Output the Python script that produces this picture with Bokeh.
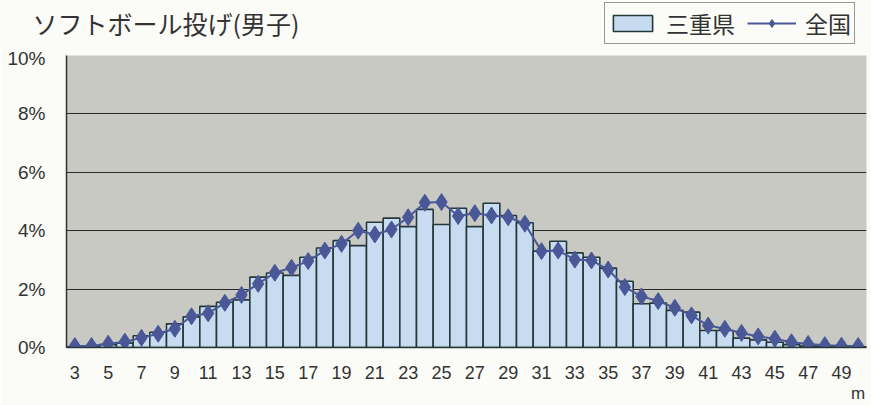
from bokeh.plotting import figure
from bokeh.layouts import column
from bokeh.models import (Range1d, FixedTicker, Label, Legend, LegendItem,
                          ColumnDataSource, LinearAxis)
from bokeh.embed import file_html
from bokeh.resources import INLINE

title_text = "ソフトボール投げ(男子)"
series_mie = "三重県"
series_all = "全国"
unit_label = "m"

distance = list(range(3, 51))
mie = [0.02, 0.03, 0.10, 0.15, 0.40, 0.52, 0.81, 1.05, 1.41, 1.55, 1.63, 2.41,
       2.55, 2.47, 3.09, 3.41, 3.66, 3.49, 4.29, 4.43, 4.14, 4.73, 4.21, 4.77,
       4.14, 4.94, 4.52, 4.27, 3.30, 3.64, 3.24, 3.09, 2.72, 2.27, 1.50, 1.52,
       1.27, 1.21, 0.58, 0.58, 0.32, 0.26, 0.18, 0.10, 0.05, 0.03, 0.02, 0.02]
zenkoku = [0.05, 0.05, 0.13, 0.20, 0.33, 0.47, 0.64, 1.07, 1.17, 1.53, 1.80, 2.18,
           2.56, 2.73, 2.96, 3.32, 3.55, 4.00, 3.87, 4.04, 4.46, 4.96, 4.98, 4.50,
           4.60, 4.52, 4.46, 4.24, 3.30, 3.32, 3.01, 2.98, 2.67, 2.07, 1.75, 1.59,
           1.36, 1.10, 0.75, 0.64, 0.50, 0.38, 0.30, 0.18, 0.12, 0.08, 0.06, 0.05]
x_ticks = list(range(3, 50, 2))
unit_tick = [50]
y_ticks = [0, 2, 4, 6, 8, 10]
y_tick_labels = {t: f"{t}%" for t in y_ticks}

NUM_FONT = "Liberation Sans"
JP_FONT = "Noto Sans CJK JP"
PAGE = "#fbfbf7"
BAR_FILL = "#c7dcf1"
BAR_LINE = "#26393a"
NAVY = "#4a5898"
TXT = "#333333"
W = 871

src = ColumnDataSource(dict(x=distance, mie=mie, zen=zenkoku))

# ---- header: title + legend (its ranges keep the series out of view; only the legend uses them) ----
h = figure(width=W, height=47, output_backend="svg", toolbar_location=None,
           x_range=Range1d(-1, 0), y_range=Range1d(-1, 0),
           min_border_left=0, min_border_right=0, min_border_top=0, min_border_bottom=0)
h.frame_align = False
h.axis.visible = False
h.grid.visible = False
h.outline_line_color = None
h.background_fill_color = PAGE
h.border_fill_color = PAGE
hb = h.vbar(x="x", top="mie", width=1, source=src, fill_color=BAR_FILL,
            line_color=BAR_LINE, line_width=1.6)
hl = h.line(x="x", y="zen", source=src, line_color=NAVY, line_width=2)
hs = h.scatter(x="x", y="zen", source=src, marker="diamond", size=17,
               fill_color=NAVY, line_color=NAVY)
h.add_layout(Label(x=32, y=25, x_units="screen", y_units="screen", text=title_text,
                   text_font=JP_FONT, text_font_size="25px", text_color=TXT,
                   text_baseline="middle"))
legend = Legend(items=[LegendItem(label=series_mie, renderers=[hb]),
                       LegendItem(label=series_all, renderers=[hl, hs])],
                location=(604, 3), orientation="horizontal",
                label_text_font=JP_FONT, label_text_font_size="23px",
                label_text_color=TXT,
                glyph_width=49, glyph_height=20, spacing=12, padding=3, margin=0,
                label_standoff=9, label_height=24,
                border_line_color=TXT, border_line_width=1.2,
                background_fill_color=PAGE, background_fill_alpha=1.0)
h.add_layout(legend, "center")

# ---- main chart ----
p = figure(width=W, height=358, output_backend="svg", toolbar_location=None,
           x_range=Range1d(2.5, 50.5), y_range=Range1d(0, 10),
           min_border_left=66, min_border_right=5, min_border_top=8, min_border_bottom=58)
p.frame_align = False
p.background_fill_color = "#c9c9c3"
p.border_fill_color = PAGE
p.outline_line_color = None

p.vbar(x="x", top="mie", width=1.0, bottom=0, source=src,
       fill_color=BAR_FILL, line_color=BAR_LINE, line_width=1.6)
p.line(x="x", y="zen", source=src, line_color=NAVY, line_width=2)
p.scatter(x="x", y="zen", source=src, marker="diamond", size=17,
          fill_color=NAVY, line_color=NAVY)

xa = p.xaxis[0]
xa.ticker = FixedTicker(ticks=x_ticks)
xa.major_tick_line_color = None
xa.major_tick_out = 0
xa.minor_tick_line_color = None
xa.minor_tick_out = 0
xa.axis_line_color = BAR_LINE
xa.axis_line_width = 1.5
xa.major_label_text_font = NUM_FONT
xa.major_label_text_font_size = "18px"
xa.major_label_text_color = TXT
xa.major_label_standoff = 18

ua = LinearAxis(ticker=FixedTicker(ticks=unit_tick),
                major_label_overrides={unit_tick[0]: unit_label},
                axis_line_color=None, major_tick_line_color=None, major_tick_out=0,
                minor_tick_line_color=None, minor_tick_out=0,
                major_label_text_font=NUM_FONT, major_label_text_font_size="17px",
                major_label_text_color=TXT, major_label_standoff=2)
p.add_layout(ua, "below")

p.yaxis.ticker = FixedTicker(ticks=y_ticks)
p.yaxis.major_label_overrides = y_tick_labels
p.yaxis.major_tick_line_color = None
p.yaxis.major_tick_out = 0
p.yaxis.minor_tick_line_color = None
p.yaxis.minor_tick_out = 0
p.yaxis.axis_line_color = TXT
p.yaxis.axis_line_width = 1.5
p.yaxis.major_label_text_font = NUM_FONT
p.yaxis.major_label_text_font_size = "19px"
p.yaxis.major_label_text_color = TXT
p.yaxis.major_label_standoff = 21

p.xgrid.grid_line_color = None
p.ygrid.grid_line_color = "#2a2a2a"
p.ygrid.grid_line_width = 1.2

layout = column(h, p, spacing=0)
open("out.html", "w").write(file_html(layout, INLINE))
